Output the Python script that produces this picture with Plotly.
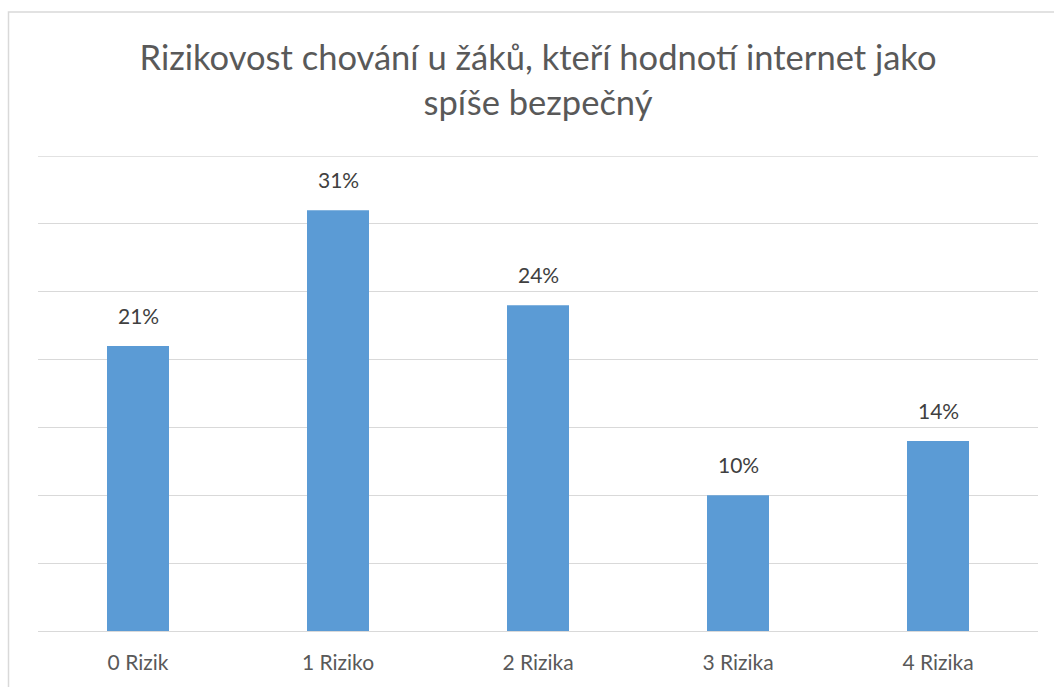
import plotly.graph_objects as go

categories = ["0 Rizik", "1 Riziko", "2 Rizika", "3 Rizika", "4 Rizika"]
values = [0.21, 0.31, 0.24, 0.10, 0.14]
labels = ["21%", "31%", "24%", "10%", "14%"]
title_text = "Rizikovost chování u žáků, kteří hodnotí internet jako<br>spíše bezpečný"
grid_vals = [0, 0.05, 0.10, 0.15, 0.20, 0.25, 0.30, 0.35]

W, H = 1054, 687
L, R, T, B = 38, 16, 156, 56
ph = H - T - B
pw = W - L - R

fig = go.Figure()
fig.add_trace(go.Bar(
    x=categories, y=values, marker=dict(color="#5b9bd5", line=dict(width=0)),
    width=0.31, hoverinfo="skip",
))
for c, v, t in zip(categories, values, labels):
    fig.add_annotation(x=c, y=v, text=t, showarrow=False, yanchor="bottom",
                       yshift=16, font=dict(family="Lato", size=21, color="#404040"))

# top gridline (plotly skips the grid line at the very edge of the range)
fig.add_shape(type="line", xref="paper", yref="y", x0=0, x1=1, y0=grid_vals[-1], y1=grid_vals[-1],
              line=dict(color="#d9d9d9", width=1.3), layer="below")

# outer chart border (cropped at right and bottom)
fig.add_shape(type="rect", xref="paper", yref="paper",
              x0=(8.5 - L) / pw, x1=(W + 10 - L) / pw,
              y0=(H - B - (H + 10)) / ph, y1=(H - B - 12) / ph,
              line=dict(color="#d9d9d9", width=1.5), fillcolor="rgba(0,0,0,0)", layer="below")

fig.update_layout(
    width=W, height=H,
    margin=dict(l=L, r=R, t=T, b=B),
    paper_bgcolor="white", plot_bgcolor="white",
    title=dict(text=title_text, x=0.5, xanchor="center", xref="paper",
               y=1 - 70 / H, yanchor="middle", yref="container",
               font=dict(family="Lato", size=34.5, color="#595959")),
    showlegend=False,
    bargap=0.69,
    xaxis=dict(showline=False, ticks="", tickfont=dict(family="Lato", size=21, color="#595959"),
               ticklabelstandoff=17, fixedrange=True),
    yaxis=dict(range=[0, 0.35], tickvals=grid_vals,
               showticklabels=False, showgrid=True,
               gridcolor="#d9d9d9", gridwidth=1.3, zeroline=True, zerolinecolor="#d9d9d9",
               zerolinewidth=1.3, fixedrange=True),
)

fig.write_html("out.html", config={"displayModeBar": False})
